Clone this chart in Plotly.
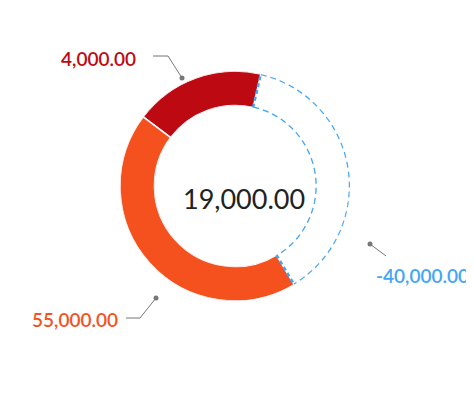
import plotly.graph_objects as go

W, H = 474, 400

labels = ["4,000.00", "55,000.00", "-40,000.00"]
values = [4000, 55000, -40000]
# arc sizes in degrees as drawn in the reference
arc_deg = [66, 158, 136]
arc_start = -53
colors = ["#bd0a12", "#f4511e", "#42a5f5"]
total_text = "19,000.00"


def px(x, y):
    return x / W, 1 - y / H


# order in image: dark red, blue, orange (clockwise from top)
order = [0, 2, 1]
spans = {}
a = arc_start
for i in order:
    spans[i] = (a, a + arc_deg[i])
    a += arc_deg[i]

fig = go.Figure()

for i in (0, 1):
    s, e = spans[i]
    fig.add_trace(go.Barpolar(
        r=[1], theta=[(s + e) / 2], width=[e - s],
        marker=dict(color=colors[i], line=dict(color="white", width=1.5)),
        hoverinfo="skip", showlegend=False,
    ))

# negative value: dashed outline only
s, e = spans[2]
n = 80
arc = [s + (e - s) * k / n for k in range(n + 1)]
for r in (1, 0):
    fig.add_trace(go.Scatterpolar(
        r=[r] * len(arc), theta=arc, mode="lines",
        line=dict(color=colors[2], width=2.5, dash="6px,4px"),
        hoverinfo="skip", showlegend=False,
    ))
for t in (s, e):
    fig.add_trace(go.Scatterpolar(
        r=[0, 1], theta=[t, t], mode="lines",
        line=dict(color=colors[2], width=2.5, dash="4px,3px"),
        hoverinfo="skip", showlegend=False,
    ))

cx0, cy0 = px(112, 293)
cx1, cy1 = px(342, 63)
fig.update_layout(
    width=W, height=H,
    margin=dict(l=0, r=0, t=0, b=0),
    paper_bgcolor="white", plot_bgcolor="white",
    font=dict(family="Lato, Open Sans, sans-serif"),
    polar=dict(
        domain=dict(x=[cx0, cx1], y=[cy0, cy1]),
        hole=0.7,
        bgcolor="white",
        radialaxis=dict(range=[0, 1], visible=False),
        angularaxis=dict(rotation=90, direction="clockwise", visible=False),
    ),
)

# leader lines and labels
leaders = [
    (0, [(145, 48), (160, 48), (174, 70)], (90, 50)),
    (1, [(118, 310), (132, 310), (148, 290)], (67, 311)),
    (2, [(362, 236), (378, 248)], (414, 267)),
]
for i, pts, (lx, ly) in leaders:
    for (x0, y0), (x1, y1) in zip(pts[:-1], pts[1:]):
        a0, b0 = px(x0, y0)
        a1, b1 = px(x1, y1)
        fig.add_shape(type="line", xref="paper", yref="paper",
                      x0=a0, y0=b0, x1=a1, y1=b1,
                      line=dict(color="#777777", width=1))
    dx, dy = px(*(pts[-1] if i != 2 else pts[0]))
    fig.add_shape(type="circle", xref="paper", yref="paper",
                  x0=dx - 2.5 / W, x1=dx + 2.5 / W, y0=dy - 2.5 / H, y1=dy + 2.5 / H,
                  fillcolor="#777777", line=dict(width=0))
    tx, ty = px(lx, ly)
    fig.add_annotation(x=tx, y=ty, xref="paper", yref="paper", text=labels[i],
                       xanchor="center", yanchor="middle", showarrow=False,
                       font=dict(size=19, color=colors[i], weight=600))

mx, my = px(236, 190)
fig.add_annotation(x=mx, y=my, xref="paper", yref="paper", text=total_text,
                   xanchor="center", yanchor="middle", showarrow=False,
                   font=dict(size=27, color="#222222"))

fig.write_html("out.html")
